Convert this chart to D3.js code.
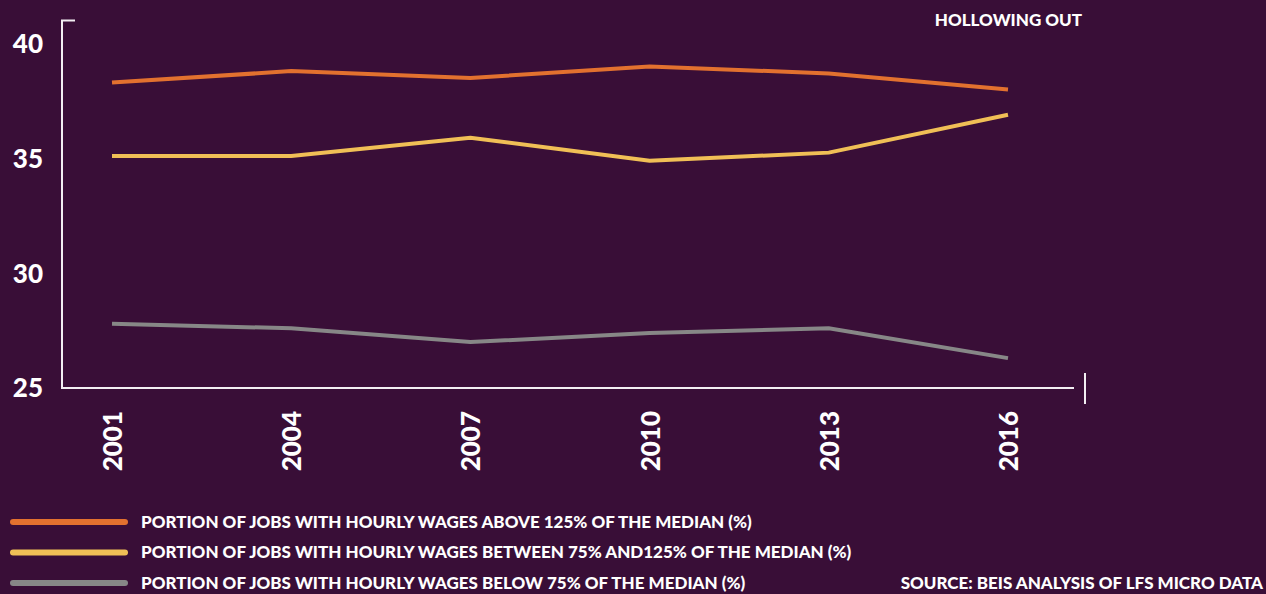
<!DOCTYPE html>
<html>
<head>
<meta charset="utf-8">
<script src="https://cdn.jsdelivr.net/npm/d3@7"></script>
<style>
	html, body { margin: 0; padding: 0; background: #390e37; }
	svg { display: block; }
	text { font-family: "Lato", "Open Sans", sans-serif; font-weight: 900; fill: #ffffff; }
</style>
</head>
<body>
<div id="chart"></div>
<script>

// chart data
var years = [2001, 2004, 2007, 2010, 2013, 2016];
var above125 = [38.3, 38.8, 38.5, 39.0, 38.7, 38.0];
var between75and125 = [35.1, 35.1, 35.9, 34.9, 35.25, 36.9];
var below75 = [27.8, 27.6, 27.0, 27.4, 27.6, 26.3];
var yTicks = [25, 30, 35, 40];

var seriesNames = [
	"PORTION OF JOBS WITH HOURLY WAGES ABOVE 125% OF THE MEDIAN (%)",
	"PORTION OF JOBS WITH HOURLY WAGES BETWEEN 75% AND125% OF THE MEDIAN (%)",
	"PORTION OF JOBS WITH HOURLY WAGES BELOW 75% OF THE MEDIAN (%)"
];
var seriesColors = ["#e2712f", "#f0bf56", "#878787"];

function init() {

	var width = 1266;
	var height = 594;

	var svg = d3.select("div#chart")
		.append("svg")
		.attr("width", width)
		.attr("height", height);

	svg.append("rect")
		.attr("width", width)
		.attr("height", height)
		.attr("fill", "#390e37");

	var x = d3.scaleLinear().domain([2001, 2016]).range([112, 1008]);
	var y = d3.scaleLinear().domain([25, 41]).range([388, 20.6]);

	var axisColor = "#f2eef2";

	// y axis line with little hook on top
	svg.append("path")
		.attr("d", "M75," + y(41) + "H62V" + y(25) + "H1074")
		.attr("fill", "none")
		.attr("stroke", axisColor)
		.attr("stroke-width", 2);

	// lone tick at right end
	svg.append("line")
		.attr("x1", 1085).attr("x2", 1085)
		.attr("y1", 373).attr("y2", 404)
		.attr("stroke", axisColor)
		.attr("stroke-width", 2);

	// y labels
	svg.selectAll("text.ylab")
		.data(yTicks)
		.enter()
		.append("text")
		.attr("class", "ylab")
		.attr("x", 43)
		.attr("y", function(d) { return y(d); })
		.attr("dy", "0.36em")
		.attr("text-anchor", "end")
		.style("font-size", "26px")
		.text(function(d) { return d; });

	// x labels (rotated)
	svg.selectAll("text.xlab")
		.data(years)
		.enter()
		.append("text")
		.attr("class", "xlab")
		.attr("transform", function(d) {
			return "translate(" + (x(d) + 10) + ",411) rotate(-90)";
		})
		.attr("text-anchor", "end")
		.style("font-size", "26px")
		.text(function(d) { return d; });

	// lines
	var line = d3.line()
		.x(function(d) { return x(d.year); })
		.y(function(d) { return y(d.value); });

	var series = [above125, between75and125, below75].map(function(vals, i) {
		return {
			name: seriesNames[i],
			color: seriesColors[i],
			values: vals.map(function(v, j) { return { year: years[j], value: v }; })
		};
	});

	svg.selectAll("path.series")
		.data(series)
		.enter()
		.append("path")
		.attr("class", "series")
		.attr("d", function(d) { return line(d.values); })
		.attr("fill", "none")
		.attr("stroke", function(d) { return d.color; })
		.attr("stroke-width", 4);

	// title
	svg.append("text")
		.attr("x", 1082)
		.attr("y", 26)
		.attr("text-anchor", "end")
		.style("font-size", "17px")
		.text("HOLLOWING OUT");

	// legend
	var legend = svg.selectAll("g.legend")
		.data(series)
		.enter()
		.append("g")
		.attr("class", "legend")
		.attr("transform", function(d, i) { return "translate(0," + (522 + i * 30.5) + ")"; });

	legend.append("line")
		.attr("x1", 13).attr("x2", 125)
		.attr("stroke", function(d) { return d.color; })
		.attr("stroke-width", 6)
		.attr("stroke-linecap", "round");

	legend.append("text")
		.attr("x", 141)
		.attr("dy", "0.34em")
		.style("font-size", "17px")
		.text(function(d) { return d.name; });

	// source
	svg.append("text")
		.attr("x", 1263)
		.attr("y", 588.5)
		.attr("text-anchor", "end")
		.style("font-size", "17px")
		.text("SOURCE: BEIS ANALYSIS OF LFS MICRO DATA");
}

init();
</script>
</body>
</html>
